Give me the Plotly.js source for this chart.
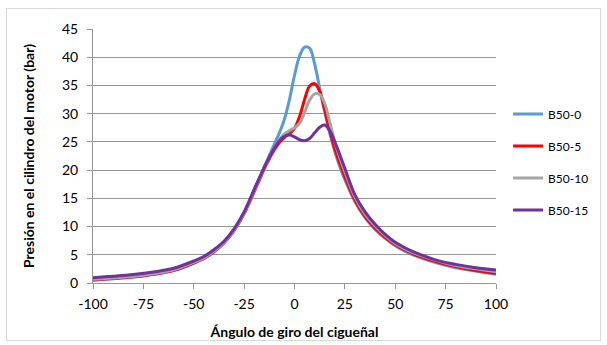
<!DOCTYPE html>
<html>
<head>
<meta charset="utf-8">
<script src="https://cdn.plot.ly/plotly-3.0.1.min.js"></script>
<style>
  html, body { margin: 0; padding: 0; background: #ffffff; }
  #wrap { position: relative; width: 607px; height: 345px; }
  #chart { width: 607px; height: 345px; }
  #frame { position: absolute; left: 6px; top: 8px; width: 593px; height: 331px;
           border: 1px solid #d9d9d9; pointer-events: none; }
</style>
</head>
<body>
<div id="wrap">
  <div id="chart"></div>
  <div id="frame"></div>
</div>
<script>
// Crank angle (degrees)
const angle = [-100, -90, -80, -70, -60, -50, -45, -40, -35, -30, -25, -20, -17.5, -15, -12.5,
               -10, -7.5, -5, -2.5, 0, 2.5, 5, 7.5, 10, 12.5, 15, 17.5, 20, 22.5, 25,
               30, 35, 40, 45, 50, 55, 60, 70, 80, 90, 100];

// Cylinder pressure (bar) for each blend
const b50_0  = [0.5, 0.75, 1.05, 1.5, 2.2, 3.5, 4.3, 5.5, 7.1, 9.3, 12.4, 16.4, 18.5, 20.6, 22.6,
                24.6, 26.6, 29.0, 32.5, 36.8, 40.2, 41.8, 41.6, 38.8, 34.5, 30.3, 26.5, 23.3, 20.6, 18.3,
                14.4, 11.6, 9.5, 7.9, 6.6, 5.6, 4.8, 3.6, 2.7, 2.1, 1.6];
const b50_5  = [0.55, 0.8, 1.1, 1.55, 2.25, 3.55, 4.35, 5.55, 7.1, 9.3, 12.3, 16.2, 18.2, 20.2, 22.0,
                23.6, 24.9, 25.8, 26.5, 27.4, 29.5, 32.5, 34.9, 35.3, 34.0, 30.7, 27.0, 23.8, 21.2, 18.8,
                14.7, 11.8, 9.7, 8.1, 6.8, 5.8, 5.0, 3.8, 2.9, 2.2, 1.7];
const b50_10 = [0.65, 0.9, 1.2, 1.65, 2.35, 3.65, 4.45, 5.65, 7.2, 9.4, 12.4, 16.4, 18.4, 20.4, 22.3,
                24.0, 25.4, 26.4, 27.0, 27.5, 28.3, 30.2, 32.4, 33.5, 33.4, 31.8, 28.5, 25.0, 22.2, 19.7,
                15.2, 12.2, 10.1, 8.4, 7.0, 6.0, 5.2, 4.0, 3.1, 2.5, 2.0];
const b50_15 = [0.95, 1.2, 1.5, 1.95, 2.6, 3.9, 4.7, 5.9, 7.4, 9.6, 12.6, 16.6, 18.6, 20.5, 22.3,
                23.9, 25.2, 26.0, 26.2, 25.9, 25.4, 25.2, 25.6, 26.6, 27.6, 28.0, 27.0, 25.0, 22.7, 20.3,
                15.6, 12.6, 10.4, 8.6, 7.2, 6.2, 5.4, 4.1, 3.3, 2.7, 2.3];

const seriesNames  = ['B50-0', 'B50-5', 'B50-10', 'B50-15'];
const seriesValues = [b50_0, b50_5, b50_10, b50_15];
const seriesColors = ['#5b9bd5', '#ff0000', '#a5a5a5', '#7030a0'];

// Angle axis ticks, written with a plain hyphen for negatives
const angleTicks  = [-100, -75, -50, -25, 0, 25, 50, 75, 100];
const angleLabels = ['-100', '-75', '-50', '-25', '0', '25', '50', '75', '100'];

const traces = seriesNames.map((name, i) => ({
  x: angle,
  y: seriesValues[i],
  name: name,
  type: 'scatter',
  mode: 'lines',
  legendgroup: name,
  line: { color: seriesColors[i], width: 3, shape: 'spline', smoothing: 1 }
}));

const font = 'Lato, "Open Sans", "Liberation Sans", sans-serif';

const layout = {
  width: 607,
  height: 345,
  margin: { l: 93, r: 111, t: 29, b: 62 },
  paper_bgcolor: '#ffffff',
  plot_bgcolor: '#ffffff',
  font: { family: font, size: 14, color: '#000000' },
  showlegend: true,
  legend: {
    x: 1.03, xanchor: 'left',
    y: 0.476, yanchor: 'middle',
    font: { family: font, size: 12, color: '#000000' },
    tracegroupgap: 13,
    traceorder: 'grouped',
    bgcolor: 'rgba(0,0,0,0)'
  },
  xaxis: {
    range: [-100, 100],
    tickmode: 'array',
    tickvals: angleTicks,
    ticktext: angleLabels,
    showgrid: false,
    zeroline: false,
    showline: true,
    linecolor: '#969696',
    linewidth: 1,
    ticks: 'outside',
    ticklen: 5,
    tickcolor: '#969696',
    ticklabelstandoff: 3,
    tickfont: { family: font, size: 14 },
    title: { text: '<b>Ángulo de giro del cigueñal</b>', font: { family: font, size: 14 }, standoff: 16 }
  },
  yaxis: {
    range: [0, 45],
    dtick: 5,
    showgrid: true,
    gridcolor: '#969696',
    gridwidth: 1,
    zeroline: false,
    showline: true,
    linecolor: '#969696',
    linewidth: 1,
    ticks: 'outside',
    ticklen: 5,
    tickcolor: '#969696',
    ticklabelstandoff: 6,
    tickfont: { family: font, size: 14 },
    title: { text: '<b>Presión en el cilindro del motor (bar)</b>', font: { family: font, size: 14 }, standoff: 24 }
  }
};

Plotly.newPlot('chart', traces, layout, { displayModeBar: false, staticPlot: true });
</script>
</body>
</html>
